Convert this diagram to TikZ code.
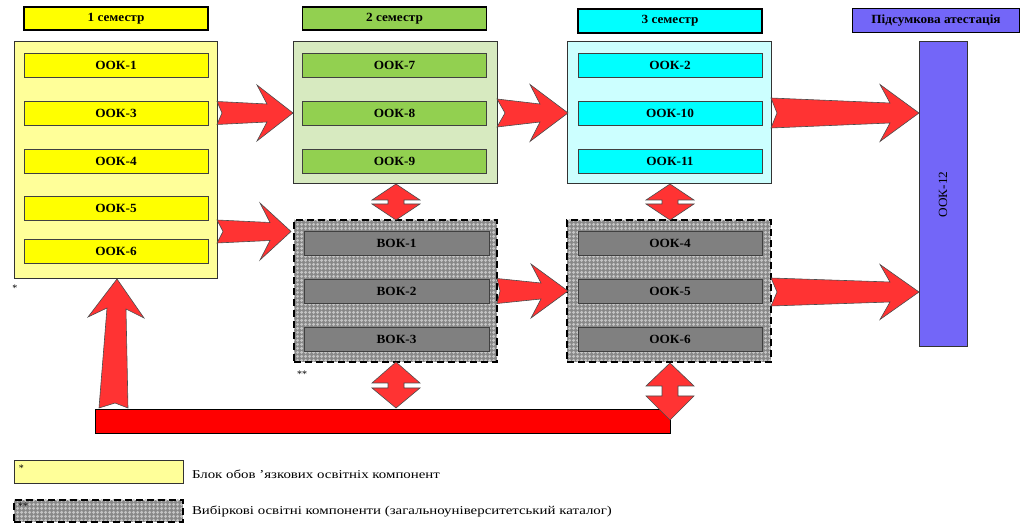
\documentclass[tikz,border=0pt]{standalone}
\usepackage{fontspec}
\setmainfont{Liberation Serif}
\usetikzlibrary{patterns,calc}
\definecolor{cYel}{HTML}{FFFF00}
\definecolor{cYelL}{HTML}{FFFF99}
\definecolor{cGrn}{HTML}{92D050}
\definecolor{cGrnL}{HTML}{D7EAC0}
\definecolor{cCyn}{HTML}{00FFFF}
\definecolor{cCynL}{HTML}{CCFFFF}
\definecolor{cPur}{HTML}{7366F8}
\definecolor{cGry}{HTML}{808080}
\definecolor{cHatch}{HTML}{888888}
\definecolor{cHatchL}{HTML}{C4C4C4}
\definecolor{cArr}{HTML}{FF3333}
\definecolor{cBar}{HTML}{FF0000}
\pgfdeclarepatternformonly{diamgrid}{\pgfpointorigin}{\pgfpoint{4pt}{4pt}}{\pgfpoint{4pt}{4pt}}{%
  \pgfpathmoveto{\pgfpoint{2pt}{0pt}}\pgfpathlineto{\pgfpoint{4pt}{2pt}}%
  \pgfpathlineto{\pgfpoint{2pt}{4pt}}\pgfpathlineto{\pgfpoint{0pt}{2pt}}\pgfpathclose\pgfusepath{fill}}
\newcommand\LbS[1]{\scalebox{1.06}[1]{#1}}
\newcommand\LgS[1]{\scalebox{1.24}[1]{#1}}
\newcommand\HArrow[8]{% tail, tip, y, head x, a, b, c, notch
  \filldraw[arr] (#1,#3-#5) -- (#4+10,#3-#6) -- (#4,#3-#7) -- (#2,#3) -- (#4,#3+#7) -- (#4+10,#3+#6) -- (#1,#3+#5) -- (#1+#8,#3) -- cycle;}
\newcommand\VArrow[5]{% cx, top, w1, w2, bottom
  \filldraw[arr] (#1,#2) -- (#1+24,#3) -- (#1+8,#3) -- (#1+8,#4) -- (#1+24,#4) -- (#1,#5) -- (#1-24,#4) -- (#1-8,#4) -- (#1-8,#3) -- (#1-24,#3) -- cycle;}
\begin{document}
\begin{tikzpicture}[x=1pt,y=-1pt,
  every node/.style={inner sep=0pt,outer sep=0pt},
  lbl/.style={font=\fontsize{12.5}{14}\selectfont\bfseries},
  hdr/.style={draw=black,line width=1.6pt,minimum width=184pt,minimum height=23pt,lbl},
  big/.style={draw=black!80,line width=1pt},
  item/.style={draw=black!75,line width=0.8pt,minimum width=184pt,minimum height=24pt,lbl},
  hatchbox/.style={preaction={fill=cHatch},pattern=diamgrid,pattern color=cHatchL,draw=black,line width=2pt,dash pattern=on 7pt off 4pt},
  arr/.style={fill=cArr,draw=black!70,line width=0.6pt,line join=miter}]
\useasboundingbox (0,0) rectangle (1021,526);
% headers
\node[hdr,fill=cYel] (h1) at (116,18.5) {\LbS{1 семестр}};
\node[hdr,fill=cGrn] (h2) at (394.5,18.5) {\LbS{2 семестр}};
\node[hdr,fill=cCyn,minimum height=24pt] (h3) at (670,21) {\LbS{3 семестр}};
\node[hdr,fill=cPur,minimum width=167pt,minimum height=24pt,line width=1.2pt] (h4) at (936,20.5) {\LbS{Підсумкова атестація}};
% big boxes
\node[big,fill=cYelL,minimum width=203pt,minimum height=237pt] (s1) at (115.5,160.5) {};
\node[big,fill=cGrnL,minimum width=204pt,minimum height=142pt] (s2) at (395,113) {};
\node[big,fill=cCynL,minimum width=204pt,minimum height=142pt] (s3) at (669,113) {};
\node[hatchbox,minimum width=203pt,minimum height=142pt] (v2) at (395.5,291) {};
\node[hatchbox,minimum width=204pt,minimum height=142pt] (v3) at (669,291) {};
\node[big,fill=cPur,minimum width=48pt,minimum height=305pt] (k12) at (943,194.5) {};
\node[rotate=90,font=\fontsize{12.5}{14}\selectfont] (k12t) at (k12.center) {\LbS{ООК-12}};
% items sem 1
\node[item,fill=cYel] (a1) at (116,65) {\LbS{ООК-1}};
\node[item,fill=cYel] (a3) at (116,113) {\LbS{ООК-3}};
\node[item,fill=cYel] (a4) at (116,161) {\LbS{ООК-4}};
\node[item,fill=cYel] (a5) at (116,208) {\LbS{ООК-5}};
\node[item,fill=cYel] (a6) at (116,251) {\LbS{ООК-6}};
% sem 2
\node[item,fill=cGrn] (b7) at (394.5,65) {\LbS{ООК-7}};
\node[item,fill=cGrn] (b8) at (394.5,113) {\LbS{ООК-8}};
\node[item,fill=cGrn] (b9) at (394.5,161) {\LbS{ООК-9}};
% sem 3
\node[item,fill=cCyn] (c2) at (670,65) {\LbS{ООК-2}};
\node[item,fill=cCyn] (c10) at (670,113) {\LbS{ООК-10}};
\node[item,fill=cCyn] (c11) at (670,161) {\LbS{ООК-11}};
% elective
\node[item,fill=cGry,minimum width=185pt] (v1) at (396.5,243) {\LbS{ВОК-1}};
\node[item,fill=cGry,minimum width=185pt] (vb) at (396.5,291) {\LbS{ВОК-2}};
\node[item,fill=cGry,minimum width=185pt] (vc) at (396.5,339) {\LbS{ВОК-3}};
\node[item,fill=cGry] (d4) at (670,243) {\LbS{ООК-4}};
\node[item,fill=cGry] (d5) at (670,291) {\LbS{ООК-5}};
\node[item,fill=cGry] (d6) at (670,339) {\LbS{ООК-6}};
% stars
\node[font=\fontsize{10}{11}\selectfont] (st1) at (15,288) {*};
\node[font=\fontsize{10}{11}\selectfont] (st2) at (302,374) {**};
% bar
\node[draw=black,line width=0.8pt,fill=cBar,minimum width=575pt,minimum height=24pt] (bar) at (382.5,421) {};
% horizontal arrows
\HArrow{217}{293}{113}{257}{11.5}{9}{28}{5}
\HArrow{217}{291}{231.5}{260}{11.5}{9}{28.5}{6}
\HArrow{497}{568}{113}{530}{14}{9}{28.5}{8}
\HArrow{497}{568}{291}{531}{12.5}{8}{27}{3}
\HArrow{771}{919}{113}{880}{15}{10}{28.5}{6}
\HArrow{771}{919}{292}{880}{14}{10}{27.5}{6}
% vertical double arrows
\VArrow{396}{184}{200}{204}{220}
\VArrow{670}{184}{200}{204}{220}
\VArrow{396}{362}{383}{388}{408}
\VArrow{670}{363}{386}{396}{420}
% up arrow
\filldraw[arr] (117,279) -- (144,318) -- (126,309) -- (128,408) -- (115,403) -- (99,408) -- (107,308) -- (88,317) -- cycle;
% legend
\node[big,fill=cYelL,minimum width=169pt,minimum height=23pt] (l1) at (98.5,472.5) {};
\node[font=\fontsize{10}{11}\selectfont,anchor=north west] (l1s) at (19,465) {*};
\node[hatchbox,minimum width=169pt,minimum height=22pt] (l2) at (98.5,511) {};
\node[font=\fontsize{10}{11}\selectfont,anchor=north west] (l2s) at (18,503) {**};
\node[anchor=west,font=\fontsize{12}{14}\selectfont] (t1) at (192,474) {\LgS{Блок обов ’язкових освітніх компонент}};
\node[anchor=west,font=\fontsize{12}{14}\selectfont] (t2) at (192,512) {\LgS{Вибіркові освітні компоненти (загальноуніверситетський каталог)}};
\end{tikzpicture}
\end{document}
